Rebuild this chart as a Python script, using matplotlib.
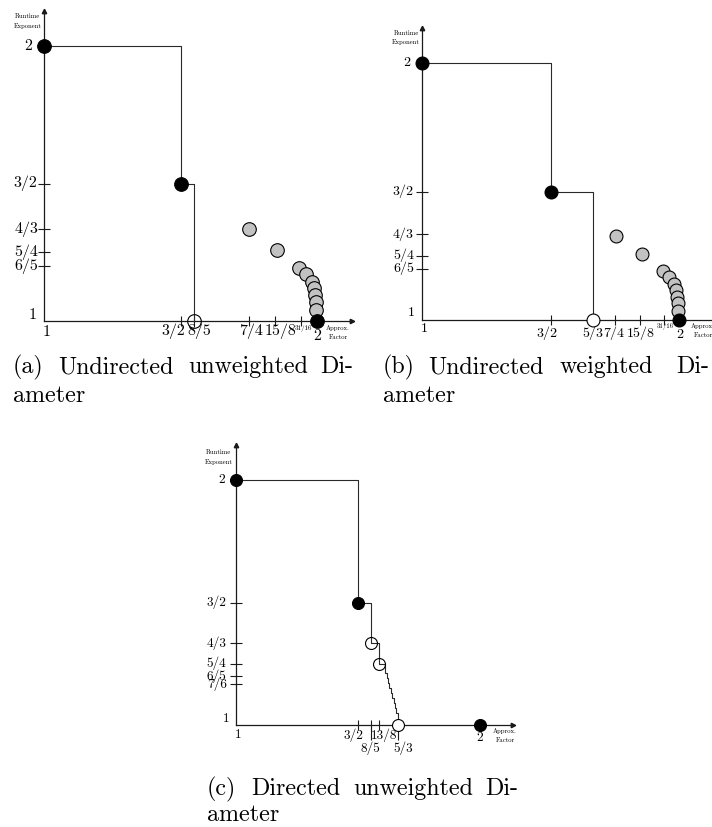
import numpy as np
import matplotlib
matplotlib.use("Agg")
import matplotlib.pyplot as plt
from matplotlib.scale import FuncScale

# ---------------- data ----------------
# Panel (a): Undirected unweighted Diameter
A_front_x = [1.0, 1.5, 1.6]
A_front_y = [2.0, 1.5, 1.0]
A_black_x = [1.0, 1.5, 2.0]
A_black_y = [2.0, 1.5, 1.0]
A_open_x = [1.6]
A_open_y = [1.0]
A_gray_x = [1.75, 1.880, 1.933, 1.957, 1.979, 1.988, 1.992, 1.995, 1.996]
A_gray_y = [1.333, 1.258, 1.193, 1.171, 1.142, 1.120, 1.095, 1.069, 1.040]
A_xticks = [1.5, 1.6, 1.75, 1.875, 1.9375]
A_xlab_vals = [1.0, 1.5, 1.6, 1.75, 1.875, 1.9375, 2.0]
A_xlab_text = ["1", "3/2", "8/5", "7/4", "15/8", "31/16", "2"]
A_yticks = [1.5, 4 / 3, 1.25, 1.2]
A_ylab_vals = [2.0, 1.5, 4 / 3, 1.25, 1.2, 1.0]
A_ylab_text = ["2", "3/2", "4/3", "5/4", "6/5", "1"]

# Panel (b): Undirected weighted Diameter
B_front_x = [1.0, 1.5, 5 / 3]
B_front_y = [2.0, 1.5, 1.0]
B_black_x = [1.0, 1.5, 2.0]
B_black_y = [2.0, 1.5, 1.0]
B_open_x = [5 / 3]
B_open_y = [1.0]
B_gray_x = [1.754, 1.881, 1.934, 1.960, 1.979, 1.988, 1.993, 1.997, 1.997]
B_gray_y = [1.327, 1.257, 1.192, 1.168, 1.140, 1.117, 1.091, 1.065, 1.036]
B_xticks = [1.5, 5 / 3, 1.75, 1.875, 1.9375]
B_xlab_vals = [1.0, 1.5, 5 / 3, 1.75, 1.875, 1.9375, 2.0]
B_xlab_text = ["1", "3/2", "5/3", "7/4", "15/8", "31/16", "2"]
B_yticks = [1.5, 4 / 3, 1.25, 1.2]
B_ylab_vals = [2.0, 1.5, 4 / 3, 1.25, 1.2, 1.0]
B_ylab_text = ["2", "3/2", "4/3", "5/4", "6/5", "1"]

# Panel (c): Directed unweighted Diameter
C_front_x = [1.0, 1.5, 1.6, 1.625, 1.639, 1.642, 1.645, 1.648, 1.651,
             1.654, 1.657, 1.660, 1.663, 5 / 3]
C_front_y = [2.0, 1.5, 4 / 3, 1.25, 1.212, 1.192, 1.171, 1.151, 1.131,
             1.110, 1.090, 1.069, 1.049, 1.0]
C_black_x = [1.0, 1.5, 2.0]
C_black_y = [2.0, 1.5, 1.0]
C_ring_x = [1.6, 1.625]
C_ring_y = [4 / 3, 1.25]
C_open_x = [5 / 3]
C_open_y = [1.0]
C_xticks = [1.5, 1.6, 1.625, 5 / 3]
C_xticks_long = [1.6, 5 / 3]
C_xlab_vals = [1.0, 1.5, 1.6, 1.625, 5 / 3, 2.0]
C_xlab_text = ["1", "3/2", "8/5", "13/8", "5/3", "2"]
C_yticks = [1.5, 4 / 3, 1.25, 1.2, 7 / 6]
C_ylab_vals = [2.0, 1.5, 4 / 3, 1.25, 1.2, 7 / 6, 1.0]
C_ylab_text = ["2", "3/2", "4/3", "5/4", "6/5", "7/6", "1"]

# ---------------- layout / style ----------------
W, H = 712, 827
FONT = "cmr10"
AX_COL = "#1a1a1a"
LINE_COL = "#2a2a2a"
GRAY = "#c2c2c2"

fig = plt.figure(figsize=(W / 100, H / 100), dpi=100)


def px_rect(l, t, r, b):
    return [l / W, 1 - b / H, (r - l) / W, (b - t) / H]


def make_axes(rect_px, xanchor_v, xanchor_p, ytop):
    l, t, r, b = rect_px
    ax = fig.add_axes(px_rect(l, t, r, b))
    xv = np.asarray(xanchor_v, float)
    xp = np.asarray(xanchor_p, float)
    fwd = lambda v: np.interp(v, xv, xp)
    inv = lambda p: np.interp(p, xp, xv)
    ax.set_xscale(FuncScale(ax, (fwd, inv)))
    ax.set_xlim(1.0, float(inv(r)))
    ax.set_ylim(1.0, ytop)
    for s in ("top", "right"):
        ax.spines[s].set_visible(False)
    for s in ("left", "bottom"):
        ax.spines[s].set_linewidth(0.9)
        ax.spines[s].set_color(AX_COL)
    ax.set_facecolor("none")
    ax.plot(1, 0, marker=">", ms=3.2, color=AX_COL, transform=ax.transAxes, clip_on=False)
    ax.plot(0, 1, marker="^", ms=3.2, color=AX_COL, transform=ax.transAxes, clip_on=False)
    ax.tick_params(axis="both", which="major", direction="inout", width=0.8, color=AX_COL,
                   labelbottom=False, labelleft=False)
    ax.tick_params(axis="x", which="major", length=7.2)
    ax.tick_params(axis="y", which="major", length=8.6)
    ax.tick_params(axis="both", which="minor", length=0)
    return ax


def xlabels(ax, vals, texts, dx, dy, sizes):
    for v, s, a, b, fs in zip(vals, texts, dx, dy, sizes):
        ax.annotate(s, xy=(v, 1.0), xycoords="data", xytext=(a, -b),
                    textcoords="offset pixels", ha="center", va="center",
                    fontsize=fs, family=FONT, annotation_clip=False, zorder=6)


def ylabels(ax, vals, texts, dx, dy, sizes):
    for v, s, a, b, fs in zip(vals, texts, dx, dy, sizes):
        ax.annotate(s, xy=(1.0, v), xycoords="data", xytext=(-a, b),
                    textcoords="offset pixels", ha="right", va="center",
                    fontsize=fs, family=FONT, annotation_clip=False)


def axis_names(ax, ylab_xy, xlab_xy):
    ax.text(ylab_xy[0], ylab_xy[1], "Runtime\nExponent", transform=ax.transAxes,
            ha="center", va="center", fontsize=4.8, family=FONT, linespacing=1.7)
    ax.text(xlab_xy[0], xlab_xy[1], "Approx.\nFactor", transform=ax.transAxes,
            ha="center", va="center", fontsize=4.8, family=FONT, linespacing=1.7)


def draw_panel(ax, fx, fy, bx, by, ox, oy, ms, gx=None, gy=None, rx=None, ry=None,
               open_fill="white"):
    ax.step(fx, fy, where="post", color=LINE_COL, lw=0.8, zorder=3, clip_on=False)
    if gx is not None:
        ax.plot(gx, gy, "o", ms=ms, mfc=GRAY, mec="black", mew=0.8, zorder=4, clip_on=False)
    if rx is not None:
        ax.plot(rx, ry, "o", ms=ms, mfc="none", mec="black", mew=0.8, zorder=4, clip_on=False)
    ax.plot(ox, oy, "o", ms=ms, mfc=open_fill, mec="black", mew=0.8, zorder=4, clip_on=False)
    ax.plot(bx, by, "o", ms=ms, mfc="black", mec="black", mew=0.8, zorder=5, clip_on=False)


# ---------- panel (a) ----------
axA = make_axes((44, 11, 352, 321),
                [0.0, 1.0, 1.5, 1.6, 1.75, 1.875, 1.9375, 2.0, 3.0],
                [44 - 273, 44, 181, 194, 249, 275, 301, 317, 317 + 273],
                1 + (321 - 11) / 275)
axA.set_xticks(A_xticks)
axA.set_yticks(A_yticks)
draw_panel(axA, A_front_x, A_front_y, A_black_x, A_black_y, A_open_x, A_open_y, 9.8,
           A_gray_x, A_gray_y, open_fill="none")
xlabels(axA, A_xlab_vals, A_xlab_text,
        [2.7, -7.3, 5, 2, 5, 2, 0.5], [11, 10, 10, 10, 10, 7, 15],
        [11.5, 11.5, 11.5, 11.5, 11.5, 5.0, 11.5])
ylabels(axA, A_ylab_vals, A_ylab_text,
        [12, 7, 6, 6, 6, 7.5], [0, 0, 0, 0, 0, 6],
        [11.5, 11.5, 11.5, 11.5, 11.5, 11.5])
axis_names(axA, (-0.053, 0.967), (0.955, -0.037))

# ---------- panel (b) ----------
axB = make_axes((422, 28, 717, 320),
                [0.0, 1.0, 1.5, 5 / 3, 1.75, 1.875, 1.9375, 2.0, 3.0],
                [422 - 257, 422, 551, 593, 615, 639.5, 664, 679, 679 + 257],
                1 + (320 - 28) / 257)
axB.set_xticks(B_xticks)
axB.set_yticks(B_yticks)
draw_panel(axB, B_front_x, B_front_y, B_black_x, B_black_y, B_open_x, B_open_y, 9.3,
           B_gray_x, B_gray_y, open_fill="white")
xlabels(axB, B_xlab_vals, B_xlab_text,
        [2.5, -4.3, -0.3, -1, 1.5, 1.5, 1], [9, 13, 13, 13, 13, 7, 15],
        [10, 10, 10, 10, 10, 4.8, 10])
ylabels(axB, B_ylab_vals, B_ylab_text,
        [12, 8.7, 8, 8, 8, 7], [0, 0, 0, 0, 0, 7],
        [10, 10, 10, 10, 10, 10])
axis_names(axB, (-0.054, 0.968), (0.953, -0.037))

# ---------- panel (c) ----------
axC = make_axes((235.7, 445, 513, 725),
                [0.0, 1.0, 1.5, 1.6, 1.625, 5 / 3, 2.0, 3.0],
                [235.7 - 244, 235.7, 358.3, 370.7, 378.7, 398, 480, 480 + 244],
                1 + (725 - 445) / 245)
axC.xaxis.remove_overlapping_locs = False
axC.set_xticks(C_xticks)
axC.set_xticks(C_xticks_long, minor=True)
axC.tick_params(axis="x", which="minor", direction="out", length=10.8, width=0.8,
                color=AX_COL, labelbottom=False)
axC.set_yticks(C_yticks)
draw_panel(axC, C_front_x, C_front_y, C_black_x, C_black_y, C_open_x, C_open_y, 8.6,
           rx=C_ring_x, ry=C_ring_y, open_fill="white")
xlabels(axC, C_xlab_vals, C_xlab_text,
        [2.3, -5, 0, 5.5, 5.7, 0], [10, 10, 23, 10, 23, 13],
        [9.6, 9.6, 9.6, 9.6, 9.6, 9.6])
ylabels(axC, C_ylab_vals, C_ylab_text,
        [10.7, 9, 9, 9, 9, 9, 5.7], [0, 0, 0, 0, 0, 0, 6],
        [9.6, 9.6, 9.6, 9.6, 9.6, 9.6, 9.6])
axis_names(axC, (-0.061, 0.957), (0.971, -0.037))

# ---------------- captions ----------------
CAP = 17.3


def caption(words, xs, y1, y2, left2):
    for w, x in zip(words, xs):
        fig.text(x / W, 1 - y1 / H, w, ha="left", va="baseline", fontsize=CAP, family=FONT)
    fig.text(left2 / W, 1 - y2 / H, "ameter", ha="left", va="baseline", fontsize=CAP,
             family=FONT)


caption(["(a)", "Undirected", "unweighted", "Di-"], [13, 58, 188, 320], 373, 402, 13)
caption(["(b)", "Undirected", "weighted", "Di-"], [383, 428, 560, 676], 373, 402, 383)
caption(["(c)", "Directed", "unweighted", "Di-"], [206.7, 251.7, 353, 485], 795, 821, 206.7)

fig.savefig("out.png", dpi=100)
